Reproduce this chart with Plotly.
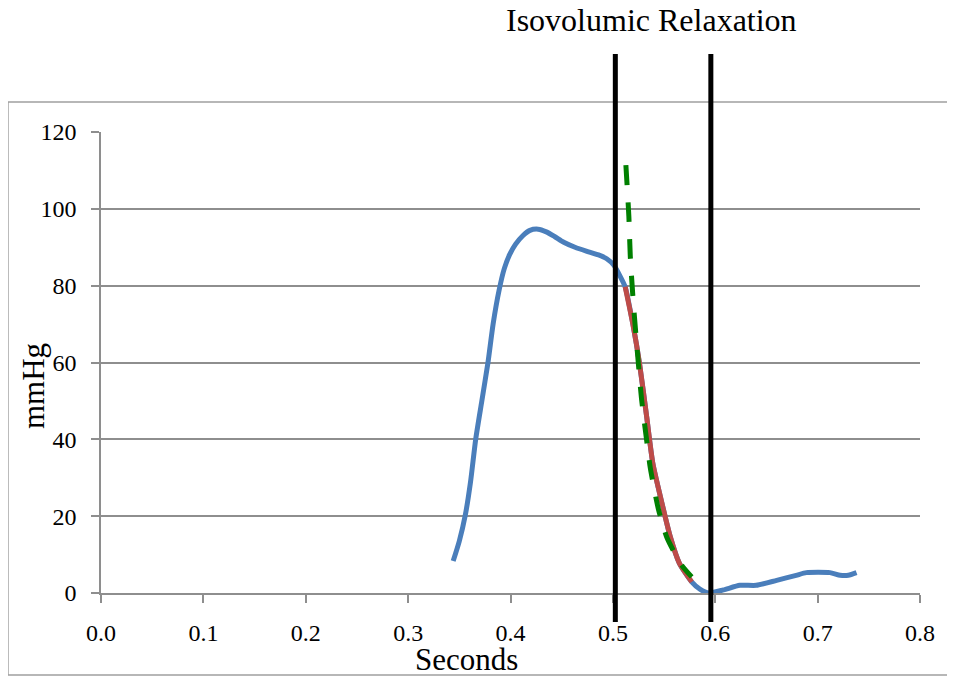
import plotly.graph_objects as go

# ---- data ----
pressure_t = [0.344, 0.350, 0.356, 0.361, 0.366, 0.372, 0.378, 0.383, 0.389, 0.394,
              0.399, 0.405, 0.412, 0.419, 0.427, 0.435, 0.443, 0.452, 0.463, 0.474,
              0.486, 0.494, 0.501, 0.507, 0.512, 0.520, 0.526, 0.533, 0.539, 0.548,
              0.556, 0.565, 0.577, 0.585, 0.594, 0.608, 0.624, 0.640, 0.660, 0.679,
              0.689, 0.712, 0.722, 0.730, 0.738]
pressure_mmhg = [8.3, 13.5, 20.5, 29.0, 40.0, 50.0, 60.0, 70.0, 79.0, 84.5,
                 88.0, 90.8, 93.0, 94.4, 94.7, 94.0, 92.8, 91.3, 90.0, 89.0,
                 88.0, 87.0, 85.3, 82.5, 79.7, 69.3, 59.8, 45.9, 33.8, 23.3,
                 14.7, 7.7, 2.9, 1.0, 0.0, 0.8, 2.0, 2.0, 3.3, 4.6,
                 5.3, 5.3, 4.6, 4.6, 5.3]

relax_t = [0.512, 0.520, 0.526, 0.533, 0.539, 0.548, 0.556, 0.565, 0.577]
relax_mmhg = [79.7, 69.3, 59.8, 45.9, 33.8, 23.3, 14.7, 7.7, 2.9]

fit_t = [0.5127, 0.5156, 0.517, 0.520, 0.524, 0.528, 0.5336, 0.5366, 0.5444,
         0.553, 0.567, 0.577]
fit_mmhg = [111.4, 98.1, 87.7, 75.5, 62.5, 50.5, 38.5, 32.5, 21.9,
            14.3, 7.3, 4.2]

boundaries_t = [0.5024, 0.5957]   # isovolumic relaxation start / end

x_ticks = [0.0, 0.1, 0.2, 0.3, 0.4, 0.5, 0.6, 0.7, 0.8]
y_ticks = [0, 20, 40, 60, 80, 100, 120]

title_text = "Isovolumic Relaxation"
x_title = "Seconds"
y_title = "mmHg"

# ---- figure ----
FONT = "Liberation Serif"
GRID = "#8e8e8e"

fig = go.Figure()
fig.add_trace(go.Scatter(x=pressure_t, y=pressure_mmhg, mode="lines",
                         line=dict(color="#4a7ebb", width=5, shape="spline", smoothing=0.6),
                         showlegend=False, hoverinfo="skip"))
fig.add_trace(go.Scatter(x=relax_t, y=relax_mmhg, mode="lines",
                         line=dict(color="#be4b48", width=5, shape="spline", smoothing=0.6),
                         showlegend=False, hoverinfo="skip"))
fig.add_trace(go.Scatter(x=fit_t, y=fit_mmhg, mode="lines",
                         line=dict(color="#008000", width=5, dash="20px,17px",
                                   shape="spline", smoothing=0.6),
                         showlegend=False, hoverinfo="skip"))

for bt in boundaries_t:
    fig.add_shape(type="line", xref="x", yref="paper", x0=bt, x1=bt,
                  y0=-0.063, y1=1.169, line=dict(color="black", width=5))

# outer chart-area border
fig.add_shape(type="rect", xref="paper", yref="paper", x0=-0.1136, x1=1.2,
              y0=-0.178, y1=1.065, line=dict(color="#a0a0a0", width=1.5), layer="below")

fig.add_annotation(text=title_text, xref="paper", yref="paper", x=0.672, y=1.243,
                   showarrow=False, xanchor="center", yanchor="middle",
                   font=dict(family=FONT, size=32, color="black"))
fig.add_annotation(text=x_title, xref="paper", yref="paper", x=0.446, y=-0.144,
                   showarrow=False, xanchor="center", yanchor="middle",
                   font=dict(family=FONT, size=31, color="black"))
fig.add_annotation(text=y_title, xref="paper", yref="paper", x=-0.083, y=0.449,
                   showarrow=False, xanchor="center", yanchor="middle", textangle=-90,
                   font=dict(family=FONT, size=31, color="black"))

# the page body adds an 8px offset, so margins are shifted to compensate
fig.update_layout(
    width=955, height=676,
    margin=dict(l=93, r=43, t=124, b=91),
    paper_bgcolor="white", plot_bgcolor="white",
    font=dict(family=FONT, color="black"),
    showlegend=False,
)
fig.update_xaxes(range=[0, 0.8], tickvals=x_ticks,
                 ticktext=[f"{v:.1f}" for v in x_ticks],
                 showgrid=False, zeroline=False,
                 showline=True, linecolor=GRID, linewidth=1.6,
                 ticks="outside", ticklen=8, tickwidth=1.6, tickcolor=GRID,
                 tickfont=dict(family=FONT, size=24, color="black"),
                 ticklabelstandoff=9)
fig.update_yaxes(range=[0, 120], tickvals=y_ticks,
                 showgrid=True, gridcolor=GRID, gridwidth=1.6, zeroline=False,
                 showline=True, linecolor=GRID, linewidth=1.6,
                 ticks="outside", ticklen=8, tickwidth=1.6, tickcolor=GRID,
                 tickfont=dict(family=FONT, size=24, color="black"),
                 ticklabelstandoff=10)

fig.write_html("out.html")
